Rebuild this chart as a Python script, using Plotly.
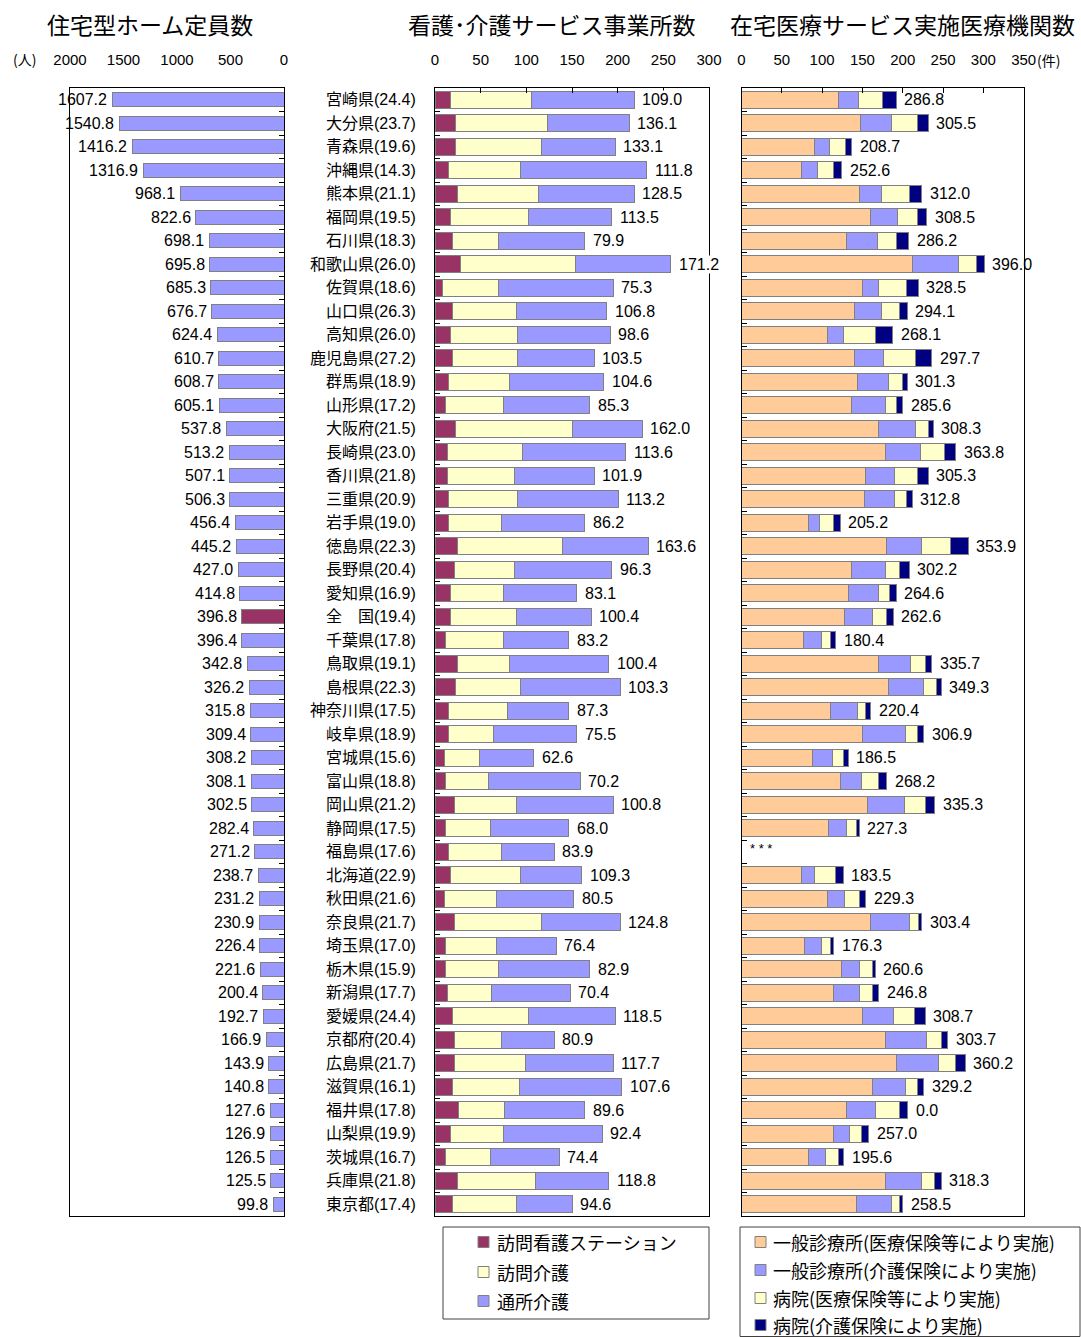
import plotly.graph_objects as go

W, H = 1081, 1337

# ---------------- data ----------------
names = ["宮崎県(24.4)", "大分県(23.7)", "青森県(19.6)", "沖縄県(14.3)", "熊本県(21.1)", "福岡県(19.5)",
         "石川県(18.3)", "和歌山県(26.0)", "佐賀県(18.6)", "山口県(26.3)", "高知県(26.0)", "鹿児島県(27.2)",
         "群馬県(18.9)", "山形県(17.2)", "大阪府(21.5)", "長崎県(23.0)", "香川県(21.8)", "三重県(20.9)",
         "岩手県(19.0)", "徳島県(22.3)", "長野県(20.4)", "愛知県(16.9)", "全　国(19.4)", "千葉県(17.8)",
         "鳥取県(19.1)", "島根県(22.3)", "神奈川県(17.5)", "岐阜県(18.9)", "宮城県(15.6)", "富山県(18.8)",
         "岡山県(21.2)", "静岡県(17.5)", "福島県(17.6)", "北海道(22.9)", "秋田県(21.6)", "奈良県(21.7)",
         "埼玉県(17.0)", "栃木県(15.9)", "新潟県(17.7)", "愛媛県(24.4)", "京都府(20.4)", "広島県(21.7)",
         "滋賀県(16.1)", "福井県(17.8)", "山梨県(19.9)", "茨城県(16.7)", "兵庫県(21.8)", "東京都(17.4)"]

home_capacity = [1607.2, 1540.8, 1416.2, 1316.9, 968.1, 822.6, 698.1, 695.8, 685.3, 676.7,
                 624.4, 610.7, 608.7, 605.1, 537.8, 513.2, 507.1, 506.3, 456.4, 445.2,
                 427.0, 414.8, 396.8, 396.4, 342.8, 326.2, 315.8, 309.4, 308.2, 308.1,
                 302.5, 282.4, 271.2, 238.7, 231.2, 230.9, 226.4, 221.6, 200.4, 192.7,
                 166.9, 143.9, 140.8, 127.6, 126.9, 126.5, 125.5, 99.8]

# middle panel segments
nurse_station = [17.2, 22.6, 22.6, 15.3, 24.1, 17.2, 19.0, 27.7, 8.0, 19.0, 17.2, 19.0, 15.3, 11.7, 22.6, 13.5,
                 13.5, 15.3, 15.3, 24.1, 20.8, 17.2, 17.2, 11.7, 24.1, 22.6, 15.3, 15.3, 9.9, 11.7, 20.8, 11.7,
                 15.3, 17.2, 9.9, 20.8, 11.7, 11.7, 13.5, 19.0, 20.8, 20.8, 19.0, 25.9, 17.2, 11.7, 24.1, 19.0]
home_care = [88.6, 100.8, 93.5, 78.5, 89.0, 85.7, 50.3, 125.6, 61.3, 69.7, 72.9, 71.1, 66.1, 62.8, 127.8, 82.1,
             73.4, 74.8, 57.3, 115.3, 66.1, 57.3, 71.5, 62.8, 57.3, 71.2, 64.6, 48.6, 38.6, 47.1, 67.9, 48.9,
             57.3, 76.6, 57.6, 95.6, 55.8, 57.6, 48.9, 83.9, 51.8, 78.1, 73.0, 50.4, 57.3, 48.9, 85.4, 69.7]
day_care = [112.1, 89.4, 81.0, 138.3, 104.8, 90.5, 94.6, 104.7, 126.0, 99.3, 101.9, 84.4, 103.3, 94.8, 76.6, 113.5,
            87.6, 110.6, 91.3, 94.2, 106.5, 80.6, 82.5, 71.9, 108.7, 108.8, 66.5, 91.2, 59.5, 100.0, 106.6, 85.8,
            58.1, 66.8, 84.3, 86.2, 65.0, 100.0, 85.8, 94.2, 58.1, 96.4, 112.4, 87.6, 108.7, 75.5, 80.6, 61.3]
service_labels = ["109.0", "136.1", "133.1", "111.8", "128.5", "113.5", "79.9", "171.2", "75.3", "106.8",
                  "98.6", "103.5", "104.6", "85.3", "162.0", "113.6", "101.9", "113.2", "86.2", "163.6",
                  "96.3", "83.1", "100.4", "83.2", "100.4", "103.3", "87.3", "75.5", "62.6", "70.2",
                  "100.8", "68.0", "83.9", "109.3", "80.5", "124.8", "76.4", "82.9", "70.4", "118.5",
                  "80.9", "117.7", "107.6", "89.6", "92.4", "74.4", "118.8", "94.6"]

# right panel segments
clinic_medical = [120.3, 148.1, 90.6, 74.9, 146.0, 160.0, 129.9, 211.7, 150.1, 140.2, 106.3, 140.2, 144.3, 136.1, 170.0, 178.2,
                  154.3, 152.2, 82.7, 180.3, 136.5, 132.3, 128.2, 76.5, 170.0, 182.0, 110.4, 150.1, 88.5, 122.4, 156.3, 108.4,
                  None, 74.9, 106.3, 160.0, 78.6, 124.5, 114.6, 150.1, 178.2, 192.3, 162.1, 130.3, 114.6, 82.7, 178.2, 142.3]
clinic_care = [24.4, 38.0, 18.6, 19.8, 28.1, 34.0, 38.4, 57.1, 19.9, 33.9, 19.8, 36.0, 37.7, 42.1, 45.9, 43.5,
               35.5, 37.6, 14.1, 43.4, 41.7, 37.7, 33.9, 22.3, 40.1, 43.8, 33.9, 53.8, 24.0, 26.1, 45.9, 21.9,
               None, 15.7, 21.9, 48.0, 20.2, 21.9, 31.8, 38.1, 51.7, 51.7, 41.8, 36.0, 19.8, 21.9, 45.5, 43.8]
hospital_medical = [29.8, 31.8, 19.4, 19.9, 33.9, 23.9, 24.0, 22.8, 34.3, 21.9, 40.2, 39.7, 17.8, 13.7, 15.7, 29.7,
                    28.1, 14.5, 17.8, 36.0, 17.8, 14.0, 18.2, 11.6, 17.8, 15.7, 10.0, 14.0, 13.6, 21.9, 25.7, 12.0,
                    None, 26.0, 18.2, 12.0, 11.6, 15.7, 15.7, 26.0, 17.8, 21.5, 14.0, 29.7, 14.1, 15.7, 16.2, 9.9]
hospital_care = [17.4, 13.7, 7.9, 9.9, 15.7, 11.6, 14.9, 9.5, 14.9, 9.5, 21.5, 19.8, 5.7, 7.9, 6.2, 14.1,
                 13.7, 7.4, 7.8, 21.5, 12.0, 7.9, 7.9, 6.2, 7.8, 6.2, 5.7, 7.9, 6.2, 9.5, 11.6, 3.7,
                 None, 9.5, 7.9, 3.7, 4.2, 3.7, 8.3, 13.7, 7.9, 12.0, 7.9, 10.0, 9.5, 6.3, 7.8, 3.8]
medical_labels = ["286.8", "305.5", "208.7", "252.6", "312.0", "308.5", "286.2", "396.0", "328.5", "294.1",
                  "268.1", "297.7", "301.3", "285.6", "308.3", "363.8", "305.3", "312.8", "205.2", "353.9",
                  "302.2", "264.6", "262.6", "180.4", "335.7", "349.3", "220.4", "306.9", "186.5", "268.2",
                  "335.3", "227.3", "***", "183.5", "229.3", "303.4", "176.3", "260.6", "246.8", "308.7",
                  "303.7", "360.2", "329.2", "0.0", "257.0", "195.6", "318.3", "258.5"]

left_ticks = [2000, 1500, 1000, 500, 0]
mid_ticks = [0, 50, 100, 150, 200, 250, 300]
right_ticks = [0, 50, 100, 150, 200, 250, 300, 350]

mid_series = [("訪問看護ステーション", nurse_station, "#993366"),
              ("訪問介護", home_care, "#FFFFCC"),
              ("通所介護", day_care, "#9999FF")]
right_series = [("一般診療所(医療保険等により実施)", clinic_medical, "#FFCC99"),
                ("一般診療所(介護保険により実施)", clinic_care, "#9999FF"),
                ("病院(医療保険等により実施)", hospital_medical, "#FFFFCC"),
                ("病院(介護保険により実施)", hospital_care, "#000080")]

# ---------------- helpers ----------------
def px(x):
    return x / W

def py(y):
    return 1 - y / H

NUM_FONT = "Liberation Sans, Arial, Noto Sans CJK JP"
CJK_FONT = "Noto Sans CJK JP, Liberation Sans"
OUTLINE = dict(color="#808080", width=1)

fig = go.Figure()

# left panel
left_colors = ["#993366" if n.startswith("全") else "#9999FF" for n in names]
fig.add_trace(go.Bar(y=names, x=home_capacity, orientation="h", xaxis="x", yaxis="y",
                     marker=dict(color=left_colors, line=OUTLINE), width=0.6, showlegend=False,
                     name="住宅型ホーム定員数"))

# middle panel
for nm, vals, col in mid_series:
    fig.add_trace(go.Bar(y=names, x=vals, orientation="h", xaxis="x2", yaxis="y2", name=nm,
                         marker=dict(color=col, line=OUTLINE), width=0.74, showlegend=False))

# right panel
for nm, vals, col in right_series:
    fig.add_trace(go.Bar(y=names, x=vals, orientation="h", xaxis="x3", yaxis="y3", name=nm,
                         marker=dict(color=col, line=OUTLINE), width=0.74, showlegend=False))

annotations = []
shapes = []
# left labels
for n, v in zip(names, home_capacity):
    annotations.append(dict(x=v, y=n, xref="x", yref="y", text=f"{v:.1f}", showarrow=False,
                            xanchor="right", yanchor="middle", xshift=-3,
                            font=dict(family=NUM_FONT, size=16, color="black")))
# middle labels
for k, n in enumerate(names):
    tot = nurse_station[k] + home_care[k] + day_care[k]
    annotations.append(dict(x=tot, y=n, xref="x2", yref="y2", text=service_labels[k], showarrow=False,
                            xanchor="left", yanchor="middle", xshift=7, bgcolor="white", borderpad=0,
                            font=dict(family=NUM_FONT, size=16, color="black")))
# right labels
for k, n in enumerate(names):
    parts = [clinic_medical[k], clinic_care[k], hospital_medical[k], hospital_care[k]]
    tot = sum(p for p in parts if p is not None)
    lab = medical_labels[k]
    if lab == "***":
        annotations.append(dict(x=tot, y=n, xref="x3", yref="y3", text="* * *", showarrow=False,
                                xanchor="left", yanchor="middle", xshift=6, yshift=3,
                                font=dict(family=NUM_FONT, size=13, color="black")))
    else:
        annotations.append(dict(x=tot, y=n, xref="x3", yref="y3", text=lab, showarrow=False,
                                xanchor="left", yanchor="middle", xshift=6,
                                font=dict(family=NUM_FONT, size=16, color="black")))

# titles and units
for txt, xc in [("住宅型ホーム定員数", 150), ("看護･介護サービス事業所数", 552), ("在宅医療サービス実施医療機関数", 902)]:
    annotations.append(dict(x=px(xc), y=py(24), xref="paper", yref="paper", text=txt, showarrow=False,
                            xanchor="center", yanchor="middle",
                            font=dict(family=CJK_FONT, size=23, color="black")))
annotations.append(dict(x=px(24), y=py(59), xref="paper", yref="paper", text="(人)", showarrow=False,
                        xanchor="center", yanchor="middle", font=dict(family=CJK_FONT, size=14, color="black")))
annotations.append(dict(x=px(1048), y=py(60), xref="paper", yref="paper", text="(件)", showarrow=False,
                        xanchor="center", yanchor="middle", font=dict(family=CJK_FONT, size=14, color="black")))

# legends (boxes, swatches, texts)
shapes.append(dict(type="rect", xref="paper", yref="paper", x0=px(443), x1=px(709), y0=py(1227), y1=py(1319),
                   line=dict(color="#404040", width=1)))
shapes.append(dict(type="rect", xref="paper", yref="paper", x0=px(740), x1=px(1080), y0=py(1227), y1=py(1336.5),
                   line=dict(color="#404040", width=1)))
for (nm, _, col), yc in zip(mid_series, [1242, 1272, 1301]):
    shapes.append(dict(type="rect", xref="paper", yref="paper", x0=px(478), x1=px(489),
                       y0=py(yc + 5.5), y1=py(yc - 5.5), fillcolor=col, line=OUTLINE))
    annotations.append(dict(x=px(495), y=py(yc), xref="paper", yref="paper", text=nm, showarrow=False,
                            xanchor="left", yanchor="middle", font=dict(family=CJK_FONT, size=18, color="black")))
for (nm, _, col), yc in zip(right_series, [1242, 1270, 1298, 1325]):
    shapes.append(dict(type="rect", xref="paper", yref="paper", x0=px(755), x1=px(766),
                       y0=py(yc + 5.5), y1=py(yc - 5.5), fillcolor=col, line=OUTLINE))
    annotations.append(dict(x=px(771), y=py(yc), xref="paper", yref="paper", text=nm, showarrow=False,
                            xanchor="left", yanchor="middle", font=dict(family=CJK_FONT, size=18, color="black")))

ydom = [py(1216), py(88)]
axis_common = dict(showline=True, mirror=True, linecolor="black", linewidth=1, showgrid=False,
                   zeroline=False, automargin=False)
tickfont = dict(family=NUM_FONT, size=15, color="black")
ycommon = dict(domain=ydom, type="category", categoryorder="array", categoryarray=names,
               range=[47.5, -0.5], tickson="boundaries", ticks="inside", ticklen=5, tickcolor="black",
               **axis_common)

fig.update_layout(
    width=W, height=H, autosize=False,
    margin=dict(l=0, r=0, t=0, b=0, pad=0),
    paper_bgcolor="white", plot_bgcolor="white",
    barmode="stack", showlegend=False,
    font=dict(family=NUM_FONT, size=15, color="black"),
    xaxis=dict(domain=[px(70), px(284)], range=[2000, 0], side="top", anchor="y",
               tickmode="array", tickvals=left_ticks, ticktext=[str(t) for t in left_ticks],
               ticks="", tickfont=tickfont, ticklabelstandoff=16, **axis_common),
    yaxis=dict(anchor="x", side="right", showticklabels=False, **ycommon),
    xaxis2=dict(domain=[px(435), px(709)], range=[0, 300], side="top", anchor="y2",
                tickmode="array", tickvals=mid_ticks, ticktext=[str(t) for t in mid_ticks],
                ticks="inside", ticklen=5, tickcolor="black", tickfont=tickfont, ticklabelstandoff=16,
                **axis_common),
    yaxis2=dict(anchor="x2", side="left", showticklabels=True, ticklabelstandoff=15,
                tickfont=dict(family=NUM_FONT, size=16, color="black"), **ycommon),
    xaxis3=dict(domain=[px(741.5), px(1023.7)], range=[0, 350], side="top", anchor="y3",
                tickmode="array", tickvals=right_ticks, ticktext=[str(t) for t in right_ticks],
                ticks="inside", ticklen=5, tickcolor="black", tickfont=tickfont, ticklabelstandoff=16,
                **axis_common),
    yaxis3=dict(anchor="x3", side="left", showticklabels=False, **ycommon),
    annotations=annotations,
    shapes=shapes,
)

fig.write_html("out.html", config={"displayModeBar": False},
               post_script="document.body.style.margin='0';document.body.style.overflow='hidden';")
